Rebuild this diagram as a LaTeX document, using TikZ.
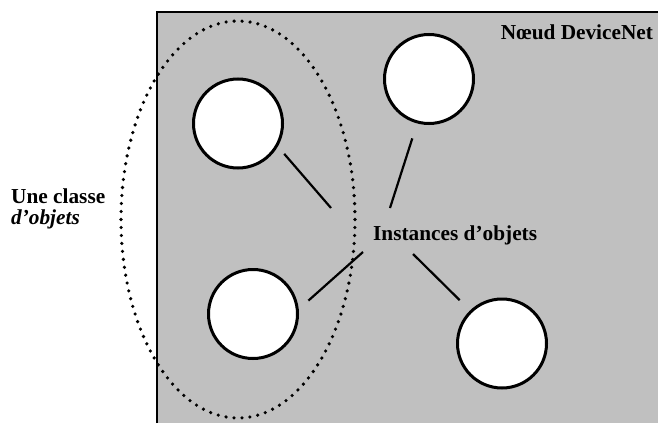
\documentclass[tikz,border=0pt]{standalone}
\usepackage{fontspec}
\setmainfont{Liberation Serif}
\usetikzlibrary{positioning}
\definecolor{nodegray}{RGB}{192,192,192}
\tikzset{obj/.style={circle,draw,fill=white,line width=3pt,minimum size=89pt,inner sep=0pt},lab/.style={inner sep=0pt,font=\fontsize{21.3}{21}\selectfont\bfseries},link/.style={line width=2.2pt}}
\tikzset{cls/.style={dash pattern=on 0pt off 8pt,line cap=round,line width=3.6pt}}

\begin{document}
\begin{tikzpicture}[x=1pt,y=-1pt]
  \useasboundingbox (0,0) rectangle (658,423);
  \fill[nodegray] (157,12) rectangle (658,423);
  \draw[line width=2.2pt] (157,423) -- (157,12) -- (658,12);
  \node[obj] (c1) at (238,123.5) {};
  \node[obj] (c2) at (429,79) {};
  \node[obj] (c3) at (253,314) {};
  \node[obj] (c4) at (502,343.5) {};
  \node[lab,anchor=base west] (inst) at (373,240) {Instances d’objets};
  \node[lab,anchor=base] (dn) at (577,39) {Nœud DeviceNet};
  \node[lab,anchor=base west,align=left] (une) at (11,224) {Une classe\\\textit{d’objets}};
  \coordinate (t1) at (331,208);
  \coordinate (t2) at (390,208);
  \coordinate (t3) at (363,252);
  \coordinate (t4) at (413,254);
  \draw[link] (c1.-30) edge[shorten <=9.75pt] (t1)
   (c2.-105) edge[shorten <=15.7pt] (t2)
   (c3.6) edge[shorten <=12.9pt] (t3)
   (c4.134) edge[shorten <=14.6pt] (t4);
  \draw[cls] (238,219.5) ellipse [x radius=117, y radius=198.5];
\end{tikzpicture}
\end{document}
